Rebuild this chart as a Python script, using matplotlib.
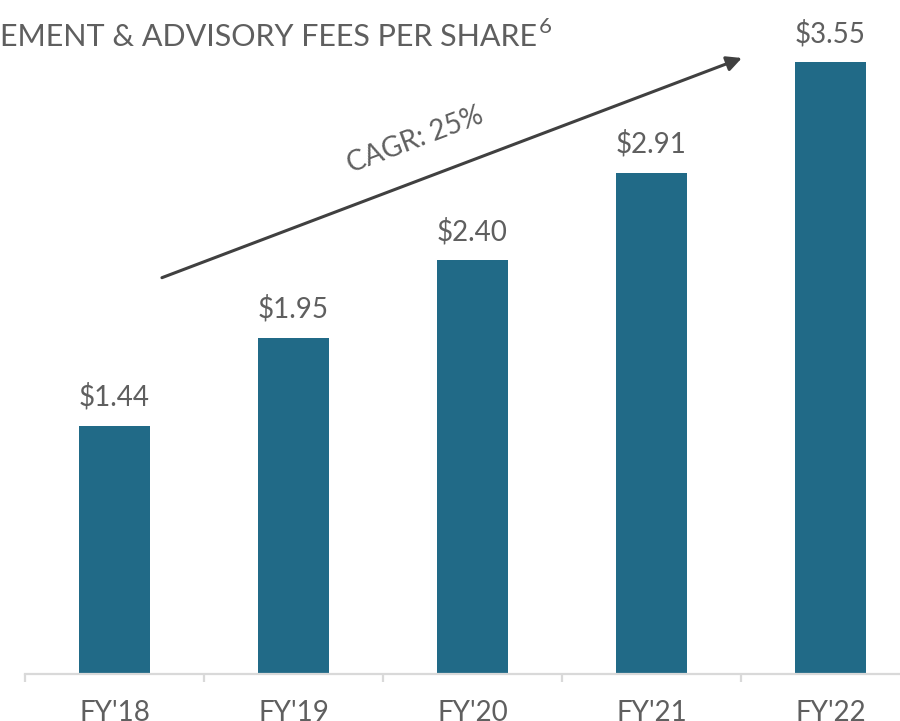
import matplotlib.pyplot as plt
from matplotlib.ticker import FixedLocator

years = ["FY'18", "FY'19", "FY'20", "FY'21", "FY'22"]
fees = [1.44, 1.95, 2.40, 2.91, 3.55]
labels = ['$1.44', '$1.95', '$2.40', '$2.91', '$3.55']
cagr = 'CAGR: 25%'
title = 'EMENT & ADVISORY FEES PER SHARE'

bar_color = '#216a87'
text_color = '#5f5f5f'
plt.rcParams['font.family'] = ['Lato', 'DejaVu Sans']

fig = plt.figure(figsize=(9, 7.21), dpi=100)
# axes deliberately runs past the right edge, like the cropped slide
ax = fig.add_axes([25 / 900, 47 / 721, 895 / 900, 672 / 721])

x = range(len(years))
ax.bar(x, fees, width=0.397, color=bar_color, zorder=2)
ax.set_xlim(-0.5, 4.5)
ax.set_ylim(0, 3.9)

for xi, v, lab in zip(x, fees, labels):
    ax.annotate(lab, (xi, v), xytext=(0, 11), textcoords='offset points',
                ha='center', va='bottom', fontsize=20, color=text_color)

for s in ['top', 'right', 'left']:
    ax.spines[s].set_visible(False)
ax.spines['bottom'].set_color('#d9d9d9')
ax.spines['bottom'].set_linewidth(1.6)
ax.set_yticks([])
ax.set_xticks(list(x))
ax.set_xticklabels(years, fontsize=20, color=text_color)
ax.tick_params(axis='x', which='major', length=0, pad=19)
ax.xaxis.set_minor_locator(FixedLocator([i - 0.5 for i in range(len(years) + 1)]))
ax.tick_params(axis='x', which='minor', length=6, width=1.6, color='#d9d9d9')

# CAGR arrow
ax.annotate('', xy=(3.505, 3.575), xytext=(0.265, 2.30),
            arrowprops=dict(arrowstyle='-|>,head_length=0.9,head_width=0.45',
                            color='#404040', lw=2.2, shrinkA=0, shrinkB=0))
ax.text(1.68, 3.10, cagr, rotation=20.8, ha='center', va='center',
        fontsize=20, color=text_color, rotation_mode='anchor')

t = fig.text(0, 1 - 46 / 721, title, ha='left', va='baseline',
             fontsize=22, color=text_color)
fig.canvas.draw()
bb = t.get_window_extent()
fig.text((bb.x1 + 2) / 900, 1 - 33 / 721, '6', ha='left', va='baseline',
         fontsize=16, color=text_color)

plt.savefig('out.png', dpi=100)
